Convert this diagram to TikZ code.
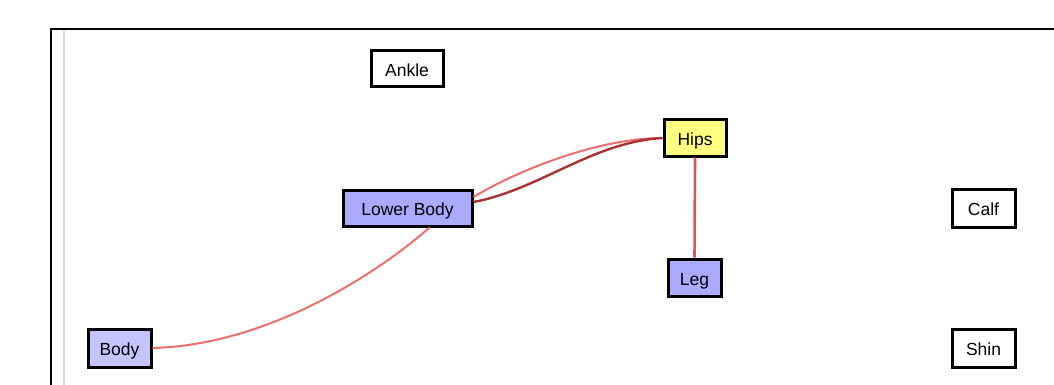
\documentclass[tikz,border=0pt]{standalone}
\usepackage{fontspec}
\setmainfont{Liberation Sans}
\begin{document}
\begin{tikzpicture}[x=1pt,y=-1pt,
  box/.style={draw=black,line width=3pt,minimum height=36pt,inner sep=0pt,
    text height=15.5pt,text depth=0pt,font=\fontsize{17.5}{17.5}\selectfont},
  plain/.style={box,fill=white},
  blue/.style={box,fill={rgb,255:red,170;green,170;blue,255}},
  paleblue/.style={box,fill={rgb,255:red,196;green,196;blue,255}},
  yellowbox/.style={box,fill={rgb,255:red,255;green,255;blue,128}},
  lightlink/.style={draw={rgb,255:red,236;green,110;blue,110},line width=2pt},
  darklink/.style={draw={rgb,255:red,170;green,50;blue,50},line width=2.4pt},
  midlink/.style={draw={rgb,255:red,212;green,90;blue,90},line width=2.6pt}]
\useasboundingbox (0,0) rectangle (1054,385);
% panel frame and inner guide line
\draw[line width=2pt] (51,386) -- (51,29) -- (1055,29);
\draw[line width=2pt,draw={rgb,255:red,216;green,216;blue,216}] (63.5,30) -- (63.5,386);
% nodes
\node[plain,minimum width=72pt] (ankle) at (407,68.5) {Ankle};
\node[yellowbox,minimum width=62pt] (hips) at (695,138) {Hips};
\node[blue,minimum width=129pt] (lower) at (407.5,208) {Lower Body};
\node[blue,minimum width=53pt,minimum height=37pt] (leg) at (694.5,277.5) {Leg};
\node[paleblue,minimum width=63pt,minimum height=38pt] (body) at (119.5,348) {Body};
\node[plain,minimum width=63pt,minimum height=38pt] (calf) at (983.5,208) {Calf};
\node[plain,minimum width=63pt,minimum height=38pt] (shin) at (983.5,348) {Shin};
% links
\path[lightlink] (body.east) .. controls +(120,-3) and +(-45,40) .. ([xshift=22pt]lower.south);
\path[lightlink] ([yshift=11pt]lower.east) .. controls +(50,-30) and +(-60,0) .. (hips.west);
\path[darklink] ([yshift=6pt]lower.east) .. controls +(65,-12) and +(-70,4) .. (hips.west);
\path[midlink] (hips.south) -- (leg.north);
\end{tikzpicture}
\end{document}
